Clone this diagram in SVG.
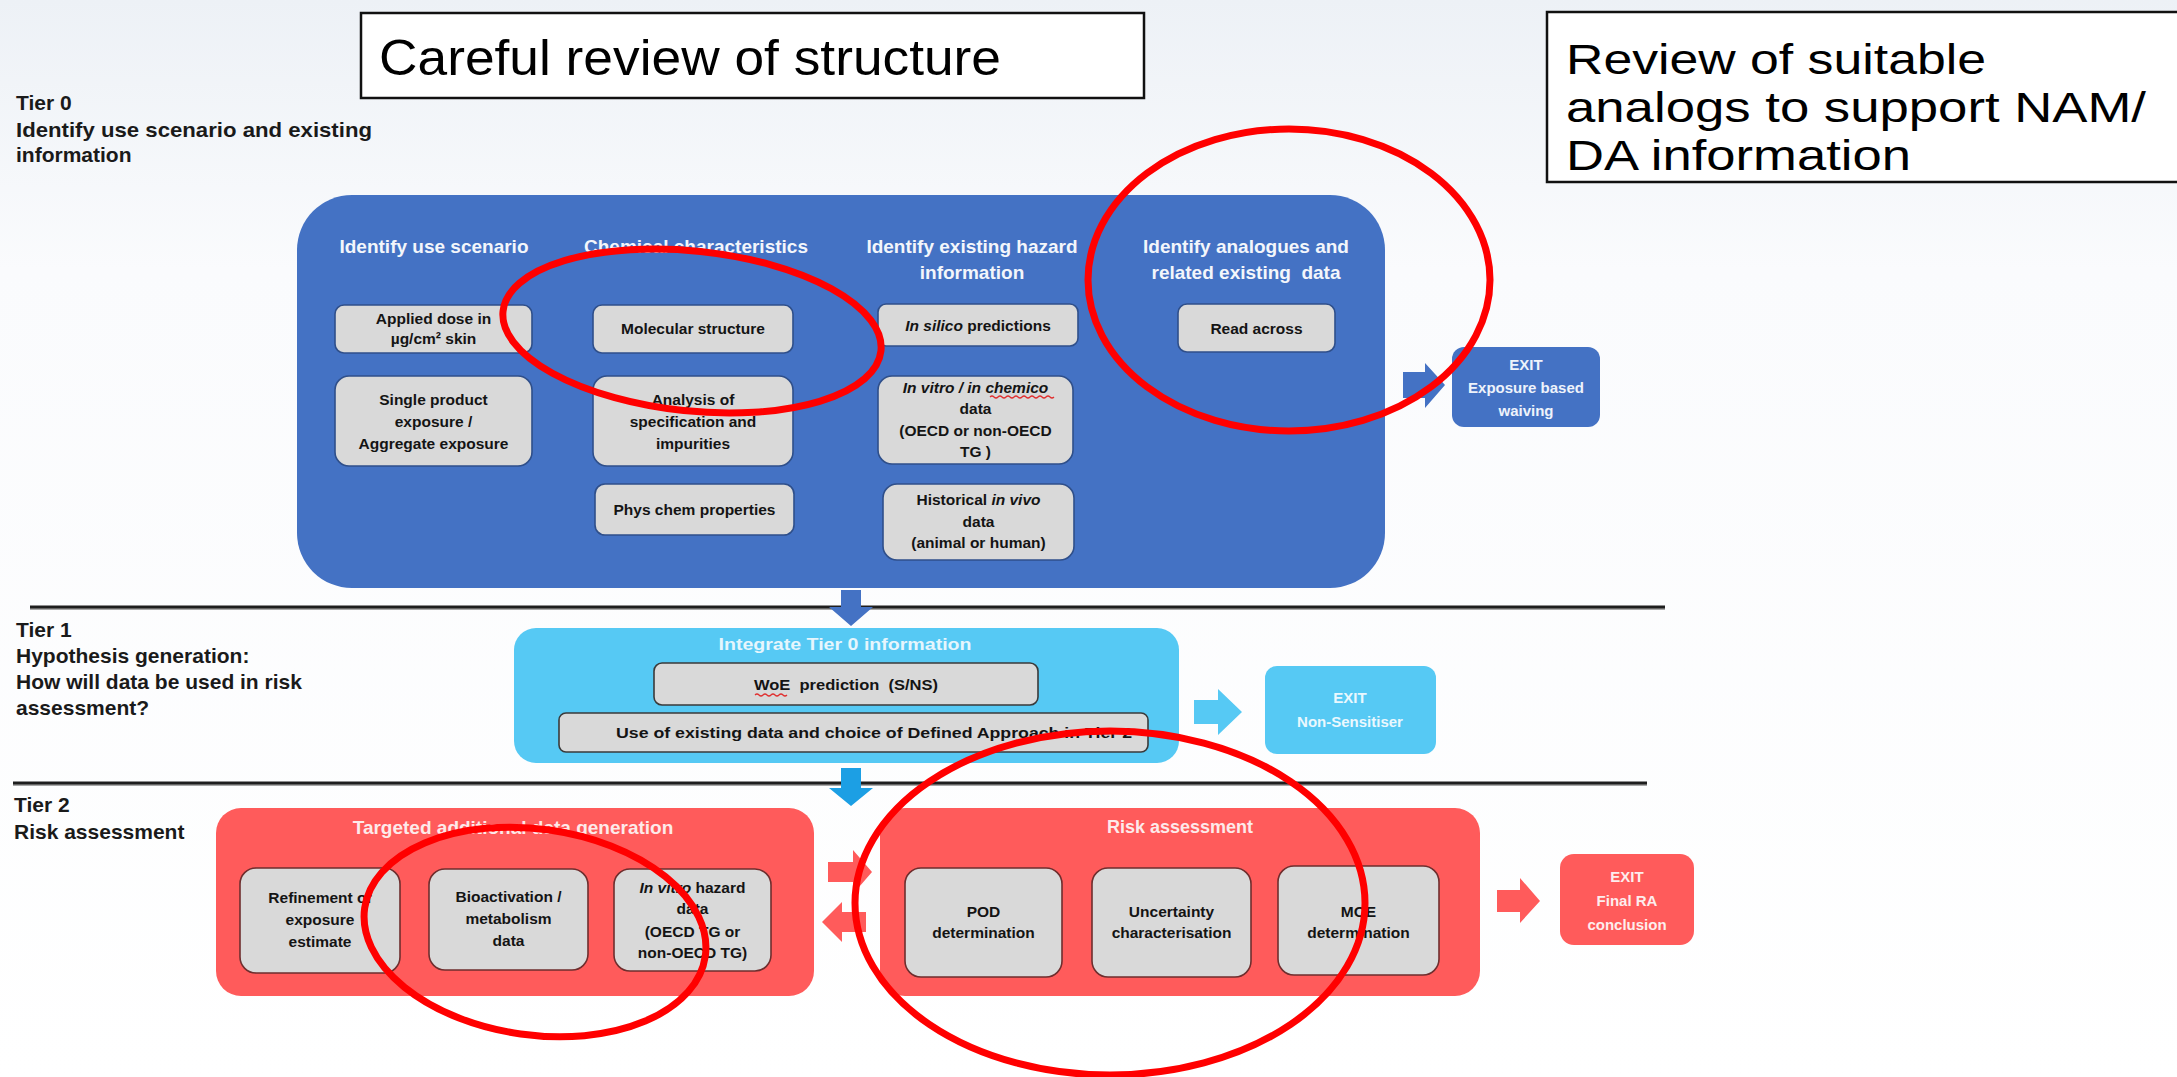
<svg xmlns="http://www.w3.org/2000/svg" width="2177" height="1077" viewBox="0 0 2177 1077">
<defs>
<linearGradient id="bg" x1="0" y1="0" x2="0" y2="1">
<stop offset="0" stop-color="#EDF1F6"/>
<stop offset="0.25" stop-color="#FAFBFD"/>
<stop offset="1" stop-color="#FFFFFF"/>
</linearGradient>
<style>
.call{fill:#FFFFFF;stroke:#111;stroke-width:2.5}
.callt{font-family:"Liberation Sans",Arial,sans-serif;font-size:50px;fill:#000}
.callr{font-family:"Liberation Sans",Arial,sans-serif;font-size:42px;fill:#000}
.tier{font-family:"Liberation Sans",Arial,sans-serif;font-weight:bold;font-size:21px;fill:#1a1a1a}
.hdr{font-family:"Liberation Sans",Arial,sans-serif;font-weight:bold;font-size:19px;fill:#F3F6FB;text-anchor:middle}
.bt{font-family:"Liberation Sans",Arial,sans-serif;font-weight:bold;font-size:15.5px;fill:#141414;text-anchor:middle}
.wt{font-family:"Liberation Sans",Arial,sans-serif;font-weight:bold;font-size:15px;fill:#EEF3FB;text-anchor:middle}
.gbB{fill:#D9D9D9;stroke:#2F4F8A;stroke-width:1.6}
.gbL{fill:#D9D9D9;stroke:#3A3A3A;stroke-width:1.6}
.gbR{fill:#D9D9D9;stroke:#6E2E2E;stroke-width:1.6}
.blue{fill:#4472C4}
.lblue{fill:#56C9F4}
.red{fill:#FF5B5B}
.ring{fill:none;stroke:#FF0000;stroke-width:7}
.sq{fill:none;stroke:#E03030;stroke-width:1.2}
.it{font-style:italic}
</style>
</defs>
<rect x="0" y="0" width="2177" height="1077" fill="url(#bg)"/>

<!-- callout boxes -->
<g id="callout-structure">
<rect class="call" x="361" y="13" width="783" height="85"/>
<text class="callt" x="379" y="75" textLength="622" lengthAdjust="spacingAndGlyphs">Careful review of structure</text>
</g>
<g id="callout-analogs">
<rect class="call" x="1547" y="12" width="660" height="170"/>
<text class="callr" x="1566" y="74" textLength="420" lengthAdjust="spacingAndGlyphs">Review of suitable</text>
<text class="callr" x="1566" y="122" textLength="580" lengthAdjust="spacingAndGlyphs">analogs to support NAM/</text>
<text class="callr" x="1566" y="170" textLength="345" lengthAdjust="spacingAndGlyphs">DA information</text>
</g>

<!-- tier labels -->
<g id="tier0-label">
<text class="tier" x="16" y="110">Tier 0</text>
<text class="tier" x="16" y="137" textLength="356" lengthAdjust="spacingAndGlyphs">Identify use scenario and existing</text>
<text class="tier" x="16" y="162">information</text>
</g>
<g id="tier1-label">
<text class="tier" x="16" y="637">Tier 1</text>
<text class="tier" x="16" y="663">Hypothesis generation:</text>
<text class="tier" x="16" y="689">How will data be used in risk</text>
<text class="tier" x="16" y="715">assessment?</text>
</g>
<g id="tier2-label">
<text class="tier" x="14" y="812">Tier 2</text>
<text class="tier" x="14" y="839">Risk assessment</text>
</g>

<!-- separator lines -->
<g id="separators">
<line x1="30" y1="609" x2="1665" y2="609" stroke="#A8A8A8" stroke-width="2"/>
<line x1="30" y1="607" x2="1665" y2="607" stroke="#1E1E1E" stroke-width="3"/>
<line x1="13" y1="785" x2="1647" y2="785" stroke="#A8A8A8" stroke-width="2"/>
<line x1="13" y1="783" x2="1647" y2="783" stroke="#1E1E1E" stroke-width="3"/>
</g>

<!-- Tier 0 -->
<g id="tier0-panel">
<rect class="blue" x="297" y="195" width="1088" height="393" rx="55"/>
<text class="hdr" x="434" y="253">Identify use scenario</text>
<text class="hdr" x="696" y="253">Chemical characteristics</text>
<text class="hdr" x="972" y="253">Identify existing hazard</text>
<text class="hdr" x="972" y="279">information</text>
<text class="hdr" x="1246" y="253">Identify analogues and</text>
<text class="hdr" x="1246" y="279" xml:space="preserve">related existing  data</text>
</g>
<g id="n-applied-dose">
<rect class="gbB" x="335" y="305" width="197" height="48" rx="9"/>
<text class="bt" x="433.5" y="324">Applied dose in</text>
<text class="bt" x="433.5" y="344">µg/cm² skin</text>
</g>
<g id="n-single-product">
<rect class="gbB" x="335" y="376" width="197" height="90" rx="14"/>
<text class="bt" x="433.5" y="405">Single product</text>
<text class="bt" x="433.5" y="427">exposure /</text>
<text class="bt" x="433.5" y="449">Aggregate exposure</text>
</g>
<g id="n-molecular-structure">
<rect class="gbB" x="593" y="305" width="200" height="48" rx="9"/>
<text class="bt" x="693" y="334">Molecular structure</text>
</g>
<g id="n-analysis">
<rect class="gbB" x="593" y="376" width="200" height="90" rx="14"/>
<text class="bt" x="693" y="405">Analysis of</text>
<text class="bt" x="693" y="427">specification and</text>
<text class="bt" x="693" y="449">impurities</text>
</g>
<g id="n-phys-chem">
<rect class="gbB" x="595" y="484" width="199" height="51" rx="10"/>
<text class="bt" x="694.5" y="515">Phys chem properties</text>
</g>
<g id="n-in-silico">
<rect class="gbB" x="878" y="304" width="200" height="42" rx="8"/>
<text class="bt" x="978" y="331"><tspan class="it">In silico</tspan> predictions</text>
</g>
<g id="n-in-vitro">
<rect class="gbB" x="878" y="376" width="195" height="88" rx="14"/>
<text class="bt it" x="975.5" y="393">In vitro / in chemico</text>
<path class="sq" d="M990 397 q2 -2 4 0 t4 0 t4 0 t4 0 t4 0 t4 0 t4 0 t4 0 t4 0 t4 0 t4 0 t4 0 t4 0 t4 0 t4 0 t4 0"/>
<text class="bt" x="975.5" y="414">data</text>
<text class="bt" x="975.5" y="436">(OECD or non-OECD</text>
<text class="bt" x="975.5" y="457">TG )</text>
</g>
<g id="n-historical">
<rect class="gbB" x="883" y="484" width="191" height="76" rx="14"/>
<text class="bt" x="978.5" y="505">Historical <tspan class="it">in vivo</tspan></text>
<text class="bt" x="978.5" y="527">data</text>
<text class="bt" x="978.5" y="548">(animal or human)</text>
</g>
<g id="n-read-across">
<rect class="gbB" x="1178" y="304" width="157" height="48" rx="9"/>
<text class="bt" x="1256.5" y="334">Read across</text>
</g>
<g id="n-exit-exposure">
<rect class="blue" x="1452" y="347" width="148" height="80" rx="12"/>
<text class="wt" x="1526" y="370">EXIT</text>
<text class="wt" x="1526" y="393">Exposure based</text>
<text class="wt" x="1526" y="416">waiving</text>
</g>

<!-- Tier 1 -->
<g id="tier1-panel">
<rect class="lblue" x="514" y="628" width="665" height="135" rx="22"/>
<text class="hdr" x="845" y="650" style="fill:#E6F6FD;font-size:17px" textLength="253" lengthAdjust="spacingAndGlyphs">Integrate Tier 0 information</text>
</g>
<g id="n-woe">
<rect class="gbL" x="654" y="663" width="384" height="42" rx="8"/>
<text class="bt" x="846" y="690" xml:space="preserve" textLength="184" lengthAdjust="spacingAndGlyphs">WoE  prediction  (S/NS)</text>
<path class="sq" d="M755 695 q2 -2 4 0 t4 0 t4 0 t4 0 t4 0 t4 0 t4 0 t4 0"/>
</g>
<g id="n-use-existing">
<rect class="gbL" x="559" y="713" width="589" height="39" rx="7"/>
<text class="bt" x="616" y="738" style="text-anchor:start" textLength="516" lengthAdjust="spacingAndGlyphs">Use of existing data and choice of Defined Approach in Tier 2</text>
</g>
<g id="n-exit-nonsens">
<rect class="lblue" x="1265" y="666" width="171" height="88" rx="12"/>
<text class="wt" x="1350" y="703" style="fill:#EAF8FE">EXIT</text>
<text class="wt" x="1350" y="727" style="fill:#EAF8FE">Non-Sensitiser</text>
</g>

<!-- Tier 2 -->
<g id="tier2-data-panel">
<rect class="red" x="216" y="808" width="598" height="188" rx="25"/>
<text class="hdr" x="513" y="834" style="fill:#FDEAEA">Targeted additional data generation</text>
</g>
<g id="n-refinement">
<rect class="gbR" x="240" y="868" width="160" height="105" rx="16"/>
<text class="bt" x="320" y="903">Refinement of</text>
<text class="bt" x="320" y="925">exposure</text>
<text class="bt" x="320" y="947">estimate</text>
</g>
<g id="n-bioactivation">
<rect class="gbR" x="429" y="869" width="159" height="101" rx="16"/>
<text class="bt" x="508.5" y="902">Bioactivation /</text>
<text class="bt" x="508.5" y="924">metabolism</text>
<text class="bt" x="508.5" y="946">data</text>
</g>
<g id="n-invitro-hazard">
<rect class="gbR" x="614" y="869" width="157" height="102" rx="16"/>
<text class="bt" x="692.5" y="893"><tspan class="it">In vitro</tspan> hazard</text>
<text class="bt" x="692.5" y="914">data</text>
<text class="bt" x="692.5" y="937">(OECD TG or</text>
<text class="bt" x="692.5" y="958">non-OECD TG)</text>
</g>
<g id="tier2-risk-panel">
<rect class="red" x="880" y="808" width="600" height="188" rx="25"/>
<text class="hdr" x="1180" y="833" style="fill:#FDEAEA;font-size:18px">Risk assessment</text>
</g>
<g id="n-pod">
<rect class="gbR" x="905" y="868" width="157" height="109" rx="16"/>
<text class="bt" x="983.5" y="917">POD</text>
<text class="bt" x="983.5" y="938">determination</text>
</g>
<g id="n-uncertainty">
<rect class="gbR" x="1092" y="868" width="159" height="109" rx="16"/>
<text class="bt" x="1171.5" y="917">Uncertainty</text>
<text class="bt" x="1171.5" y="938">characterisation</text>
</g>
<g id="n-moe">
<rect class="gbR" x="1278" y="866" width="161" height="109" rx="16"/>
<text class="bt" x="1358.5" y="917">MOE</text>
<text class="bt" x="1358.5" y="938">determination</text>
</g>
<g id="n-exit-final">
<rect class="red" x="1560" y="854" width="134" height="91" rx="14"/>
<text class="wt" x="1627" y="882" style="fill:#FDEDED">EXIT</text>
<text class="wt" x="1627" y="906" style="fill:#FDEDED">Final RA</text>
<text class="wt" x="1627" y="930" style="fill:#FDEDED">conclusion</text>
</g>

<!-- connectors (block arrows) -->
<g id="connectors">
<polygon class="blue" points="1403,372 1425,372 1425,363 1445,385 1425,408 1425,398 1403,398"/>
<polygon class="blue" points="841,590 861,590 861,607 873,607 851,626 829,607 841,607"/>
<polygon class="lblue" points="1194,700 1218,700 1218,689 1242,712 1218,735 1218,724 1194,724"/>
<polygon fill="#1C9FE4" points="841,768 861,768 861,788 873,788 851,806 829,788 841,788"/>
<polygon class="red" points="828,862 853,862 853,850 872,872 853,894 853,882 828,882"/>
<polygon class="red" points="866,912 842,912 842,902 822,922 842,942 842,932 866,932"/>
<polygon class="red" points="1497,890 1520,890 1520,878 1540,901 1520,923 1520,912 1497,912"/>
</g>

<!-- red annotation rings -->
<g id="annotations">
<ellipse class="ring" cx="692" cy="331" rx="190" ry="80" transform="rotate(6 692 331)"/>
<ellipse class="ring" cx="1289" cy="280" rx="201" ry="151"/>
<ellipse class="ring" cx="535" cy="932" rx="172" ry="103" transform="rotate(8 535 932)"/>
<ellipse class="ring" cx="1110" cy="903" rx="255" ry="172"/>
</g>
</svg>
